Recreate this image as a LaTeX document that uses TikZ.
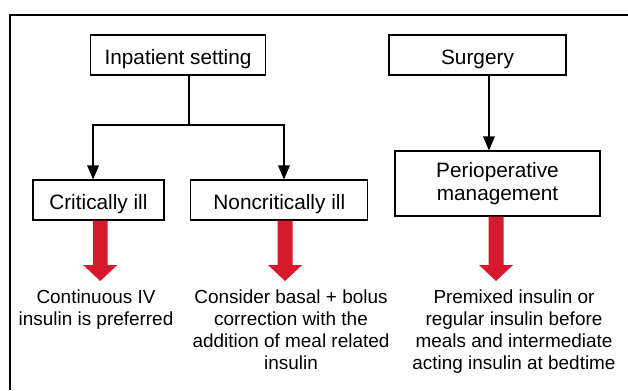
\documentclass[tikz,border=0pt]{standalone}
\usepackage{fontspec}
\setmainfont{Liberation Sans}
\usetikzlibrary{arrows.meta,calc}
\definecolor{arrowred}{RGB}{215,25,45}
% thick red block arrow from #1 down to the height of #2
\newcommand{\redarrow}[2]{%
  \fill[arrowred] let \p1=(#1), \p2=(#2) in
    (\x1-5.6pt,\y1) -- (\x1-5.6pt,\y2+12pt) -- (\x1-12.8pt,\y2+12pt) -- (\x1,\y2)
    -- (\x1+12.8pt,\y2+12pt) -- (\x1+5.6pt,\y2+12pt) -- (\x1+5.6pt,\y1) -- cycle;}
\begin{document}
\begin{tikzpicture}[x=0.75pt,y=-0.75pt,>={Triangle[length=10.5pt,width=8.8pt]},
  box/.style={draw,line width=0.9pt,inner sep=0pt,align=center,
    font=\fontsize{15.6}{17.5}\selectfont},
  onebox/.style={box,minimum height=30pt,text height=14.5pt,text depth=0pt},
  note/.style={inner sep=0pt,align=center,anchor=north,
    font=\fontsize{14.2}{16.5}\selectfont}]
	\useasboundingbox (0,0) rectangle (628,390);
	\draw[line width=1.3pt] (628,15)--(10,15)--(10,390);
	% boxes
	\node[onebox,minimum width=131.25pt] (inpat) at (178,55) {Inpatient setting};
	\node[onebox,minimum width=132.75pt] (surg) at (477.5,55) {Surgery};
	\node[onebox,minimum width=98.25pt] (crit) at (98.4,200) {Critically ill};
	\node[onebox,minimum width=132.75pt] (noncrit) at (279.3,200) {Noncritically ill};
	\node[box,minimum width=153.75pt,minimum height=48.75pt] (periop) at (497.5,183.5) {Perioperative\\management};
	% notes
	\node[note] (critnote) at (96,290) {Continuous IV\\insulin is preferred};
	\node[note] (noncritnote) at (291,290) {Consider basal + bolus\\correction with the\\addition of meal related\\insulin};
	\node[note] (periopnote) at (514,290) {Premixed insulin or\\regular insulin before\\meals and intermediate\\acting insulin at bedtime};
	% connectors
	\coordinate (split) at (189,125);
	\coordinate (tips) at (0,281);
	\draw[line width=0.9pt] (inpat.south -| split)--(split);
	\draw[line width=0.9pt,->] (split)-|([xshift=-4pt]crit.north);
	\draw[line width=0.9pt,->] (split)-|([xshift=3.5pt]noncrit.north);
	\draw[line width=0.9pt,->] ([xshift=8.6pt]surg.south)--([xshift=8.6pt]surg.south |- periop.north);
	\redarrow{[xshift=1.4pt]crit.south}{tips}
	\redarrow{[xshift=4.3pt]noncrit.south}{tips}
	\redarrow{[xshift=-1.1pt]periop.south}{tips}
\end{tikzpicture}
\end{document}
